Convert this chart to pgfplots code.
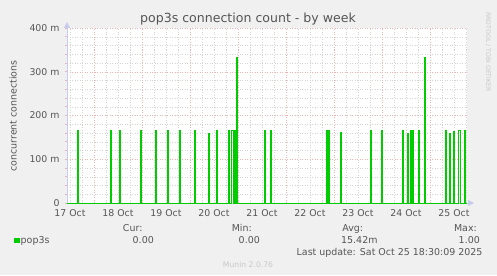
\documentclass[border=0pt]{standalone}
\usepackage{fontspec}
\setmainfont{DejaVu Sans}
\usepackage{pgfplots}
\pgfplotsset{compat=1.18}
\usetikzlibrary{arrows.meta}
\definecolor{munbg}{HTML}{F0F0F0}
\definecolor{mgreen}{HTML}{00CC00}
\definecolor{txt}{HTML}{555555}
\definecolor{mgrid}{HTML}{D4D4D4}
\definecolor{Mgrid}{HTML}{EDB4B4}
\definecolor{axc}{HTML}{C8CCEC}
\definecolor{faint}{HTML}{C8C8C8}
\begin{document}
\begin{tikzpicture}[x=1bp,y=1bp,font=\fontsize{9.5}{11}\selectfont]
\fill[munbg] (0,0) rectangle (497,275);
\useasboundingbox (0,0) rectangle (497,275);
\begin{axis}[
  at={(67bp,72bp)}, anchor=origin,
  width=400bp, height=175bp, scale only axis,
  xmin=0, xmax=200, ymin=0, ymax=0.4,
  axis background/.style={fill=white},
  axis x line*=bottom, axis y line*=left,
  axis line style={draw=axc, line width=0.8bp},
  x axis line style={-{Triangle[length=6bp,width=6bp]}, shorten >=-7bp},
  y axis line style={-{Triangle[length=6bp,width=6bp]}, shorten >=-6bp},
  /pgf/number format/assume math mode=true,
  tick label style={font=\fontsize{9.4}{11}\selectfont, text=txt},
  xtick={1.5,25.5,49.5,73.5,97.5,121.5,145.5,169.5,193.5},
  xticklabels={17 Oct,18 Oct,19 Oct,20 Oct,21 Oct,22 Oct,23 Oct,24 Oct,25 Oct},
  xtick style={draw=none},
  minor xtick={1.5,7.5,...,199.5},
  extra x ticks={13.5,37.5,61.5,85.5,109.5,133.5,157.5,181.5},
  extra x tick labels={},
  extra x tick style={xmajorgrids=true, major grid style={Mgrid, line width=0.5bp, dash pattern=on 1bp off 1.5bp}, major tick length=3bp, tick style={draw=Mgrid, line width=0.8bp}},
  ytick={0,0.1,0.2,0.3,0.4},
  yticklabels={0,100 m,200 m,300 m,400 m},
  minor ytick={0.02,0.04,...,0.39},
  ymajorgrids=true, xminorgrids=true, yminorgrids=true,
  major grid style={Mgrid, line width=0.5bp, dash pattern=on 1bp off 1.5bp},
  minor grid style={mgrid, line width=0.5bp, dash pattern=on 1bp off 1.5bp},
  tick align=outside,
  major tick length=2bp, minor tick length=2bp,
  ytick style={draw=Mgrid, line width=0.8bp},
  minor tick style={draw=mgrid, line width=0.6bp},
  xticklabel style={yshift=-1bp},
  yticklabel style={xshift=-2bp},
  clip=false,
]
\addplot[const plot mark left, mgreen, line width=0.8bp, mark=none] coordinates {
(0,0) (5,0.1667) (5.5,0) (21.5,0.1667) (22,0) (26,0.1667) (26.5,0)
(36.5,0.1667) (37,0) (44,0.1667) (44.5,0) (50,0.1667) (50.5,0)
(56,0.1667) (56.5,0) (63.5,0.1667) (64,0) (70.5,0.159) (71,0)
(74.5,0.1667) (75,0) (80.5,0.1667) (81,0) (82,0.1667) (83,0)
(83.5,0.1667) (84,0) (84.5,0.3333) (85,0) (98.5,0.1667) (99,0)
(101.5,0.1667) (102,0) (129.5,0.1667) (130,0) (130.5,0.1667) (131,0)
(136.5,0.1616) (137,0) (151.5,0.1667) (152,0) (157,0.1667) (157.5,0)
(167.5,0.1667) (168,0) (170,0.16) (170.5,0) (171.5,0.1667) (172,0)
(172.5,0.1667) (173,0) (175.5,0.1667) (176,0) (178.5,0.3333) (179,0)
(189,0.1667) (189.5,0) (191,0.16) (191.5,0) (193,0.1646) (193.5,0)
(195.5,0.1667) (196.5,0) (198.5,0.1667) (199,0) (200,0)
};
\end{axis}
% title
\node[text=txt, font=\fontsize{12.6}{14}\selectfont] at (248,256) {pop3s connection count - by week};
% y label
\node[text=txt, rotate=90] at (13,159) {concurrent connections};
% RRDTOOL
\node[text=faint, rotate=-90, font=\fontsize{6.2}{7}\selectfont] at (488,223) {RRDTOOL / TOBI OETIKER};
% legend
\fill[mgreen] (14,32) rectangle (20,37.5);
\node[text=txt, anchor=base west, inner sep=0] at (20.5,31.6) {pop3s};
\node[text=txt, anchor=base east, inner sep=0] at (142.7,44) {Cur:};
\node[text=txt, anchor=base east, inner sep=0] at (154,31.6) {0.00};
\node[text=txt, anchor=base east, inner sep=0] at (252,44) {Min:};
\node[text=txt, anchor=base east, inner sep=0] at (260,31.6) {0.00};
\node[text=txt, anchor=base east, inner sep=0] at (363.3,44) {Avg:};
\node[text=txt, anchor=base east, inner sep=0] at (377.7,31.6) {15.42m};
\node[text=txt, anchor=base east, inner sep=0] at (477,44) {Max:};
\node[text=txt, anchor=base east, inner sep=0] at (480,31.6) {1.00};
\node[text=txt, anchor=base east, inner sep=0] at (482.7,20) {Last update: Sat Oct 25 18:30:09 2025};
\node[text=faint, anchor=base, inner sep=0, font=\fontsize{7.7}{9}\selectfont] at (248,7.5) {Munin 2.0.76};
\end{tikzpicture}
\end{document}
